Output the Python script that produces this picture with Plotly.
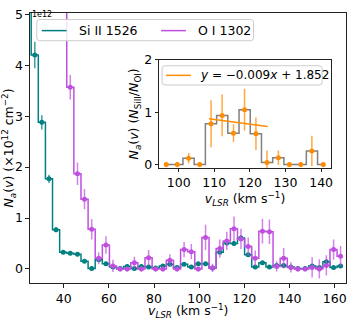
import plotly.graph_objects as go

# ---------------- data ----------------
vel = [24.0, 27.2, 30.3, 33.5, 36.6, 39.8, 42.9, 46.1, 49.2, 52.4, 55.5, 58.7,
       61.8, 65.0, 68.1, 71.3, 74.4, 77.6, 80.7, 83.9, 87.0, 90.2, 93.3, 96.5,
       99.6, 102.8, 105.9, 109.1, 112.2, 115.4, 118.5, 121.7, 124.8, 128.0,
       131.1, 134.3, 137.4, 140.6, 143.7, 146.9, 150.0, 153.2, 156.3, 159.5, 162.6]

si_N = [6.40, 4.20, 2.88, 1.77, 0.77, 0.33, 0.31, 0.29, 0.15, 0.01, 0.18, 0.10,
        0.04, 0.01, 0.05, 0.01, 0.05, 0.04, 0.02, 0.06, 0.09, 0.03, 0.09, 0.04,
        0.10, 0.10, 0.02, 0.33, 0.51, 0.50, 0.61, 0.28, 0.04, 0.12,
        0.04, 0.07, 0.07, 0.04, 0.01, 0.01, 0.06, 0.03, 0.14, 0.03, 0.06]
si_err = [0.30, 0.26, 0.14, 0.08, 0.05, 0.03, 0.03, 0.03, 0.03, 0.03, 0.03, 0.03,
          0.03, 0.03, 0.03, 0.03, 0.03, 0.03, 0.03, 0.03, 0.03, 0.03, 0.03, 0.03,
          0.03, 0.03, 0.03, 0.04, 0.05, 0.05, 0.05, 0.04, 0.03, 0.03,
          0.03, 0.03, 0.03, 0.03, 0.03, 0.03, 0.03, 0.03, 0.04, 0.03, 0.03]

oi_N = [9.50, 9.00, 8.20, 7.40, 6.60, 5.80, 3.57, 1.87, 1.37, 0.78, 0.21, 0.47,
        0.06, 0.00, 0.00, 0.12, 0.00, 0.22, 0.00, 0.00, 0.17, 0.00, 0.38, 0.34,
        0.00, 0.62, 0.02, 0.40, 0.55, 0.79, 0.59, 0.44, 0.21, 0.74,
        0.73, 0.05, 0.21, 0.03, 0.00, 0.00, 0.03, 0.00, 0.07, 0.38, 0.25]
oi_err = [0.30, 0.30, 0.30, 0.30, 0.30, 0.28, 0.24, 0.22, 0.20, 0.20, 0.12, 0.17,
          0.12, 0.05, 0.05, 0.12, 0.05, 0.15, 0.05, 0.05, 0.12, 0.05, 0.15, 0.15,
          0.05, 0.25, 0.08, 0.18, 0.18, 0.24, 0.20, 0.18, 0.15, 0.24,
          0.24, 0.10, 0.20, 0.10, 0.05, 0.05, 0.20, 0.19, 0.20, 0.20, 0.20]

ratio_vel = [96.5, 99.6, 102.8, 105.9, 109.1, 112.2, 115.4, 118.5, 121.7,
             124.8, 128.0, 131.1, 134.3, 137.4, 140.6]
ratio = [0.00, 0.00, 0.12, 0.00, 0.78, 0.94, 0.60, 1.05, 0.59,
         0.04, 0.13, 0.00, 0.00, 0.26, 0.00]
ratio_err = [0.05, 0.05, 0.10, 0.05, 0.45, 0.40, 0.17, 0.40, 0.31,
             0.23, 0.14, 0.05, 0.05, 0.29, 0.05]

fit_slope = -0.009
fit_icpt = 1.852
fit_x = [108.5, 125.0]

series_names = ["Si II 1526", "O I 1302"]
fit_label = "<i>y</i> = \u22120.009<i>x</i> + 1.852"
x_title = "<i>v</i><sub><i>LSR</i></sub> (km s<sup>\u22121</sup>)"
y_title = "<i>N</i><sub><i>a</i></sub>(<i>v</i>) (\u00d710<sup>12</sup> cm<sup>\u22122</sup>)"
y2_title = "<i>N</i><sub><i>a</i></sub>(<i>v</i>) (<i>N</i><sub>SiII</sub>/<i>N</i><sub>OI</sub>)"

xticks_main = [40, 60, 80, 100, 120, 140, 160]
yticks_main = [0, 1, 2, 3, 4, 5]
xticks_inset = [100, 110, 120, 130, 140]
yticks_inset = [0, 1, 2]

# ---------------- style ----------------
TEAL = "#008080"
PURPLE = "#BF4FDF"
ORANGE = "#FF8C00"
GRAY = "#808080"
FONT = "DejaVu Sans"
FS = 12.5
W, H = 350, 318


def px(x):
    return x / W


def py(y):
    return 1 - y / H


fig = go.Figure()

# Si II
fig.add_trace(go.Scatter(x=vel, y=si_N, mode="lines", line_shape="hvh",
                         line=dict(color=TEAL, width=1.5), name=series_names[0],
                         showlegend=False, xaxis="x", yaxis="y"))
fig.add_trace(go.Scatter(x=vel, y=si_N, mode="markers", showlegend=False,
                         marker=dict(color=TEAL, size=5),
                         error_y=dict(type="data", array=si_err, color="rgba(0,128,128,0.75)",
                                      thickness=1.5, width=0),
                         xaxis="x", yaxis="y"))
# O I
fig.add_trace(go.Scatter(x=vel, y=oi_N, mode="lines", line_shape="hvh",
                         line=dict(color=PURPLE, width=1.5), name=series_names[1],
                         showlegend=False, xaxis="x", yaxis="y"))
fig.add_trace(go.Scatter(x=vel, y=oi_N, mode="markers", showlegend=False,
                         marker=dict(color=PURPLE, size=5),
                         error_y=dict(type="data", array=oi_err, color="rgba(191,79,223,0.7)",
                                      thickness=1.5, width=0),
                         xaxis="x", yaxis="y"))

# inset
fig.add_trace(go.Scatter(x=ratio_vel, y=ratio, mode="lines", line_shape="hvh",
                         line=dict(color=GRAY, width=1.5), showlegend=False,
                         xaxis="x2", yaxis="y2"))
fig.add_trace(go.Scatter(x=ratio_vel, y=ratio, mode="markers", showlegend=False,
                         marker=dict(color=ORANGE, size=5),
                         error_y=dict(type="data", array=ratio_err, color="rgba(255,140,0,0.75)",
                                      thickness=1.5, width=0),
                         xaxis="x2", yaxis="y2"))
fig.add_trace(go.Scatter(x=fit_x, y=[fit_slope * v + fit_icpt for v in fit_x],
                         mode="lines", line=dict(color=ORANGE, width=1.5),
                         name="fit", showlegend=False,
                         xaxis="x2", yaxis="y2"))

axis_common = dict(showline=True, mirror=True, linecolor="#222222", linewidth=1,
                   ticks="outside", ticklen=3.5, tickcolor="#222222", showgrid=False,
                   zeroline=False, tickfont=dict(family=FONT, size=FS, color="black"))


def rounded_box(x0, y0, x1, y1, r=3):
    pts = [
        f"M {px(x0 + r)},{py(y0)}",
        f"L {px(x1 - r)},{py(y0)}",
        f"Q {px(x1)},{py(y0)} {px(x1)},{py(y0 + r)}",
        f"L {px(x1)},{py(y1 - r)}",
        f"Q {px(x1)},{py(y1)} {px(x1 - r)},{py(y1)}",
        f"L {px(x0 + r)},{py(y1)}",
        f"Q {px(x0)},{py(y1)} {px(x0)},{py(y1 - r)}",
        f"L {px(x0)},{py(y0 + r)}",
        f"Q {px(x0)},{py(y0)} {px(x0 + r)},{py(y0)}",
        "Z",
    ]
    return dict(type="path", path=" ".join(pts), xref="paper", yref="paper",
                fillcolor="rgba(255,255,255,0.85)", line=dict(color="#CCCCCC", width=1),
                layer="above")


def leg_line(x0, x1, y, color):
    return dict(type="line", x0=px(x0), x1=px(x1), y0=py(y), y1=py(y),
                xref="paper", yref="paper", line=dict(color=color, width=1.5), layer="above")


def text(s, x, y, xanchor="left", yanchor="middle", size=FS, angle=0):
    return dict(text=s, x=px(x), y=py(y), xref="paper", yref="paper",
                xanchor=xanchor, yanchor=yanchor, showarrow=False, textangle=angle,
                font=dict(family=FONT, size=size, color="black"))


shapes = [
    rounded_box(37, 12, 255, 34),
    leg_line(42, 67, 23.5, TEAL),
    leg_line(162, 187, 23.5, PURPLE),
    rounded_box(163, 60, 324, 80),
    leg_line(167, 192, 70, ORANGE),
]
annotations = [
    text(series_names[0], 77, 23.5),
    text(series_names[1], 197, 23.5),
    text(fit_label, 199, 70, size=12),
    text("1e12", 30, 0, yanchor="top", size=8),
    text(x_title, 189, 315, xanchor="center", yanchor="middle"),
]

fig.update_layout(
    width=W, height=H,
    margin=dict(l=0, r=0, t=0, b=0),
    paper_bgcolor="white", plot_bgcolor="white",
    font=dict(family=FONT, size=FS, color="black"),
    showlegend=False,
    xaxis=dict(domain=[px(30), px(348)], range=[25, 165], tickvals=xticks_main,
               anchor="y", **axis_common),
    yaxis=dict(domain=[py(286), py(5)], range=[-0.28, 5.03], tickvals=yticks_main,
               title=dict(text=y_title, font=dict(family=FONT, size=FS), standoff=6),
               anchor="x", **axis_common),
    xaxis2=dict(domain=[px(160), px(333)], range=[94.5, 142.8], tickvals=xticks_inset,
                title=dict(text=x_title, font=dict(family=FONT, size=FS), standoff=0),
                anchor="y2", **axis_common),
    yaxis2=dict(domain=[py(166), py(54)], range=[-0.06, 2.0], tickvals=yticks_inset,
                title=dict(text=y2_title, font=dict(family=FONT, size=FS), standoff=2),
                anchor="x2", **axis_common),
    shapes=shapes,
    annotations=annotations,
)

fig.write_html("out.html", config={"displayModeBar": False},
               post_script="document.body.style.margin='0';document.body.style.overflow='hidden';")
